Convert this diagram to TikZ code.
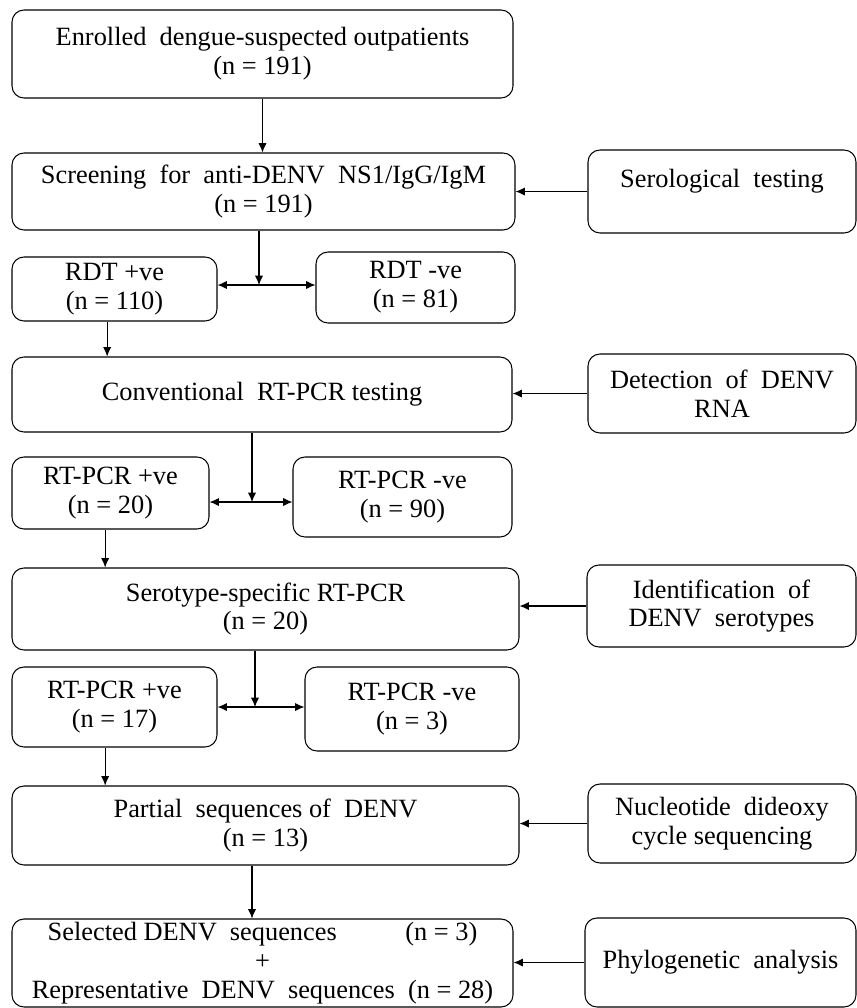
\documentclass[tikz,border=0pt]{standalone}
\usepackage{fontspec}
\setmainfont{Liberation Serif}
\usepackage{tikz}
\usetikzlibrary{arrows.meta}

\begin{document}
\begin{tikzpicture}[
  box/.style={rectangle,draw,rounded corners=0.36cm,align=center,inner sep=0pt,
              font={\fontsize{22.5}{24.5}\selectfont}},
  arr/.style={line width=0.9pt,-{Latex[length=8pt,width=7pt]}},
  line width=0.9pt]
\useasboundingbox (0,0) rectangle (25.71,-30.24);
% main column
\node (enrol)    at (7.875,-1.62)   [box,minimum width=15.03cm,minimum height=2.64cm] {Enrolled \ dengue-suspected outpatients\\(n = 191)};
\node (screen)   at (7.905,-5.745)  [box,minimum width=15.09cm,minimum height=2.31cm] {Screening \ for \ anti-DENV \ NS1/IgG/IgM\\(n = 191)};
\node (rdtpos)   at (3.435,-8.67)   [box,minimum width=6.15cm,minimum height=1.92cm]  {RDT +ve\\(n = 110)};
\node (rdtneg)   at (12.465,-8.625) [box,minimum width=5.97cm,minimum height=2.13cm]  {RDT -ve\\(n = 81)};
\node (conv)     at (7.86,-11.835)  [box,minimum width=15.0cm,minimum height=2.25cm]  {Conventional \ RT-PCR testing};
\node (pcrpos)   at (3.315,-14.79)  [box,minimum width=5.91cm,minimum height=2.16cm]  {RT-PCR +ve\\(n = 20)};
\node (pcrneg)   at (12.075,-14.91) [box,minimum width=6.57cm,minimum height=2.4cm]   {RT-PCR -ve\\(n = 90)};
\node (serotype) at (7.965,-18.27)  [box,minimum width=15.21cm,minimum height=2.46cm] {Serotype-specific RT-PCR\\(n = 20)};
\node (typpos)   at (3.435,-21.21)  [box,minimum width=6.15cm,minimum height=2.4cm]   {RT-PCR +ve\\(n = 17)};
\node (typneg)   at (12.36,-21.27)  [box,minimum width=6.42cm,minimum height=2.52cm]  {RT-PCR -ve\\(n = 3)};
\node (partial)  at (7.965,-24.765) [box,minimum width=15.21cm,minimum height=2.37cm] {Partial \ sequences of \ DENV\\(n = 13)};
\node (selected) at (7.875,-28.89)  [box,minimum width=15.03cm,minimum height=2.64cm] {Selected DENV \ sequences\hspace{2.6em}(n = 3)\\+\\Representative \ DENV \ sequences \ (n = 28)};
% right column
\node (sero)     at (21.66,-5.745)  [box,minimum width=8.04cm,minimum height=2.49cm]  {Serological \ testing\\[-10pt]\strut};
\node (detect)   at (21.66,-11.805) [box,minimum width=8.04cm,minimum height=2.37cm]  {Detection \ of \ DENV\\RNA};
\node (ident)    at (21.645,-18.18) [box,minimum width=8.07cm,minimum height=2.46cm]  {Identification \ of\\DENV \ serotypes};
\node (nucleo)   at (21.66,-24.705) [box,minimum width=8.04cm,minimum height=2.37cm]  {Nucleotide \ dideoxy\\cycle sequencing};
\node (phylo)    at (21.615,-28.875)[box,minimum width=8.13cm,minimum height=2.67cm]  {Phylogenetic \ analysis};
% split points
\coordinate (j1) at (7.77,-8.55);
\coordinate (j2) at (7.56,-15.06);
\coordinate (j3) at (7.65,-21.21);
% connectors
\draw [arr] (enrol.south) -- (enrol.south |- screen.north);
\draw [arr] (sero) -- (screen);
\draw [arr] (screen.south -| j1) -- (j1);
\draw [arr] (j1) -- (j1 -| rdtpos.east);
\draw [arr] (j1) -- (j1 -| rdtneg.west);
\draw [arr] ([xshift=-0.22cm]rdtpos.south) -- ([xshift=-0.22cm]rdtpos.south |- conv.north);
\draw [arr] (detect) -- (detect -| conv.east);
\draw [arr] (conv.south -| j2) -- (j2);
\draw [arr] (j2) -- (j2 -| pcrpos.east);
\draw [arr] (j2) -- (j2 -| pcrneg.west);
\draw [arr] ([xshift=-0.16cm]pcrpos.south) -- ([xshift=-0.16cm]pcrpos.south |- serotype.north);
\draw [arr] (ident) -- (ident -| serotype.east);
\draw [arr] (serotype.south -| j3) -- (j3);
\draw [arr] (j3) -- (j3 -| typpos.east);
\draw [arr] (j3) -- (j3 -| typneg.west);
\draw [arr] ([xshift=-0.28cm]typpos.south) -- ([xshift=-0.28cm]typpos.south |- partial.north);
\draw [arr] (nucleo) -- (nucleo -| partial.east);
\draw [arr] (partial.south -| j2) -- (selected.north -| j2);
\draw [arr] (phylo) -- (phylo -| selected.east);
\end{tikzpicture}
\end{document}
